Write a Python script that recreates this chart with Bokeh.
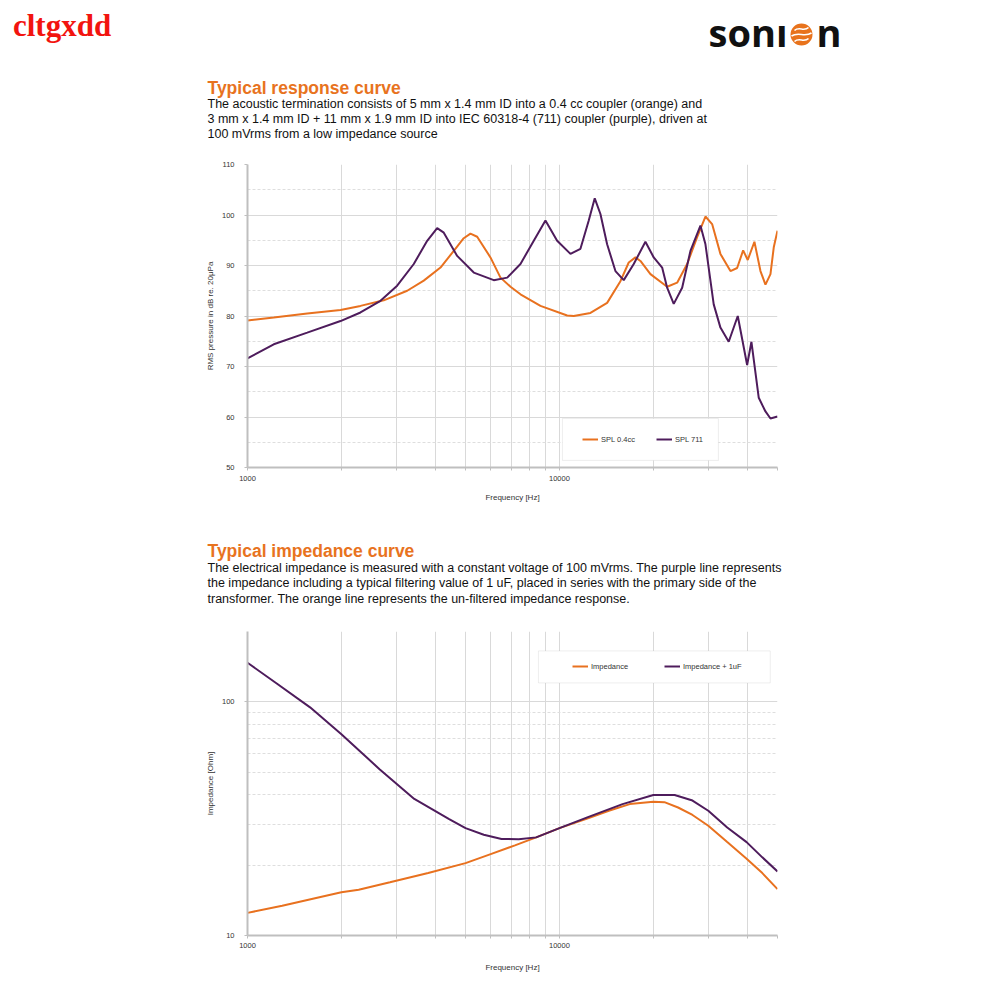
from bokeh.plotting import figure
from bokeh.models import (Range1d, FixedTicker, Label, Legend, LegendItem,
                          BoxAnnotation, BasicTickFormatter)
from bokeh.layouts import column
from bokeh.embed import file_html
from bokeh.resources import INLINE

# ---------------- data ----------------
SPL_04CC_FREQ = [1000, 1214, 1554, 1987, 2302, 2734, 3250, 3673, 4156, 4584,
                 4934, 5184, 5448, 6009, 6471, 6968, 7499, 8693, 10585, 11112,
                 12571, 14218, 15685, 16676, 17521, 18178, 19574, 22140, 23838,
                 25664, 27628, 29376, 30860, 32810, 35330, 37120, 38800, 40140,
                 42170, 44090, 45750, 47470, 48640, 50000]
SPL_04CC_DB = [79.1, 79.7, 80.5, 81.2, 82.0, 83.1, 85.0, 87.0, 89.6, 92.9,
               95.4, 96.3, 95.7, 91.6, 87.6, 85.8, 84.3, 82.0, 80.1, 80.0,
               80.6, 82.6, 86.9, 90.6, 91.6, 90.9, 88.3, 85.8, 86.6,
               90.3, 95.6, 99.7, 98.2, 92.3, 88.9, 89.5, 93.0, 91.1,
               94.7, 88.9, 86.2, 88.3, 93.6, 96.9]

SPL_711_FREQ = [1000, 1214, 1554, 1987, 2302, 2669, 3018, 3412, 3767, 4055,
                4258, 4700, 5313, 6158, 6802, 7499, 8273, 9018, 9831, 10846,
                11676, 12414, 12975, 13532, 14218, 15117, 16073, 17303, 18861,
                20054, 21340, 22140, 23245, 24736, 26299, 28311, 29376, 31226,
                32810, 34880, 37290, 39960, 41250, 43540, 45750, 47470, 50000]
SPL_711_DB = [71.6, 74.4, 76.7, 79.0, 80.7, 83.0, 86.0, 90.3, 94.9, 97.4,
              96.5, 91.9, 88.6, 87.1, 87.6, 90.3, 94.9, 98.9, 94.9, 92.3,
              93.3, 98.9, 103.3, 100.2, 94.2, 88.9, 87.1, 90.3, 94.7,
              91.6, 89.6, 85.6, 82.4, 85.6, 92.9, 97.9, 94.2, 82.3,
              77.7, 74.9, 80.0, 70.3, 74.9, 63.8, 61.1, 59.7, 60.1]

IMP_FREQ = [1000, 1292, 1714, 2000, 2272, 2862, 3795, 5000, 6020, 7200, 8420,
            10000, 12340, 14400, 16800, 20000, 21700, 24000, 26700, 30000,
            34500, 39800, 44700, 50000]
IMP_OHM = [12.5, 13.4, 14.6, 15.3, 15.7, 16.9, 18.5, 20.4, 22.3, 24.3, 26.3,
           28.8, 31.7, 34.2, 36.5, 37.4, 37.2, 35.3, 32.8, 29.5,
           25.1, 21.3, 18.5, 15.8]

IMP1UF_FREQ = [1000, 1228, 1587, 2000, 2650, 3425, 4430, 5000, 5720, 6520,
               7400, 8420, 10000, 12340, 15930, 20000, 23400, 26700, 30000,
               34500, 39800, 44700, 50000]
IMP1UF_OHM = [147, 121, 94.7, 72.7, 51.5, 38.4, 31.5, 28.8, 27.0, 25.9,
              25.8, 26.3, 28.8, 32.1, 36.5, 39.9, 39.9, 37.8, 34.2,
              29.0, 25.1, 21.6, 18.8]

X_TICKS = [1000, 10000]
X_TICK_LABELS = ["1000", "10000"]
X_MINOR = [2000, 3000, 4000, 5000, 6000, 7000, 8000, 9000,
           20000, 30000, 40000, 50000]
SPL_TICKS = [50, 60, 70, 80, 90, 100, 110]
SPL_TICK_LABELS = ["50", "60", "70", "80", "90", "100", "110"]
SPL_MINOR = [55, 65, 75, 85, 95, 105]
IMP_TICKS = [10, 100]
IMP_TICK_LABELS = ["10", "100"]
IMP_MINOR = [20, 30, 40, 50, 60, 70, 80, 90, 200]

ORANGE = "#E8711F"
PURPLE = "#4E1C5C"
TITLE_ORANGE = "#E8731E"
FONT = "Liberation Sans"
W = 1000


def text_fig(h):
    p = figure(width=W, height=h, x_range=Range1d(0, W), y_range=Range1d(h, 0),
               output_backend="svg", toolbar_location=None,
               x_axis_location=None, y_axis_location=None,
               min_border=0, min_border_left=0, min_border_right=0,
               min_border_top=0, min_border_bottom=0)
    p.frame_align = False
    p.grid.visible = False
    p.outline_line_color = None
    return p


def add_text(p, x, y, text, size, color="#111111", style="normal", font=FONT):
    p.add_layout(Label(x=x, y=y, text=text, text_font=font, text_font_size=size,
                       text_color=color, text_font_style=style,
                       text_baseline="alphabetic", text_align="left"))


# ---------------- header ----------------
h1 = text_fig(150)
add_text(h1, 12.5, 24.5, "cltgxdd", "31px", color="#F2140F", style="bold",
         font="Liberation Serif")
add_text(h1, 708, 31, "sonı", "38px", color="#111111", style="bold",
         font="Open Sans")
h1.circle(x=[801], y=[34], radius=11, fill_color="#E8731C", line_color=None)
for dy, half in ((-5.5, 7), (0, 10), (5.5, 7)):
    h1.bezier(x0=[801 - half], y0=[34 + dy + 1.5], x1=[801 + half], y1=[34 + dy - 1.5],
              cx0=[801 - half / 3], cy0=[34 + dy - 3], cx1=[801 + half / 3], cy1=[34 + dy + 3],
              line_color="white", line_width=1.6)
add_text(h1, 816, 31, "n", "38px", color="#111111", style="bold", font="Open Sans")

add_text(h1, 207, 87, "Typical response curve", "17.5px", color=TITLE_ORANGE, style="bold")
desc1 = ["The acoustic termination consists of 5 mm x 1.4 mm ID into a 0.4 cc coupler (orange) and",
         "3 mm x 1.4 mm ID + 11 mm x 1.9 mm ID into IEC 60318-4 (711) coupler (purple), driven at",
         "100 mVrms from a low impedance source"]
for i, line in enumerate(desc1):
    add_text(h1, 207, 103.5 + 14.8 * i, line, "12.5px")


def style_chart(p, yticks, ylabels, yminor, ylabel, lab_standoff, axlab_standoff):
    p.frame_align = False
    xt = FixedTicker(ticks=X_TICKS, minor_ticks=X_MINOR)
    yt = FixedTicker(ticks=yticks, minor_ticks=yminor)
    p.xaxis.ticker = xt
    p.yaxis.ticker = yt
    p.xgrid.ticker = xt
    p.ygrid.ticker = yt
    p.xaxis.formatter = BasicTickFormatter()
    p.yaxis.formatter = BasicTickFormatter()
    p.xaxis.major_label_overrides = dict(zip(X_TICKS, X_TICK_LABELS))
    p.yaxis.major_label_overrides = dict(zip(yticks, ylabels))
    p.xgrid.grid_line_color = "#D9D9D9"
    p.xgrid.minor_grid_line_color = "#D9D9D9"
    p.ygrid.grid_line_color = "#D9D9D9"
    p.ygrid.minor_grid_line_color = "#DEDEDE"
    p.ygrid.minor_grid_line_dash = "3 2"
    p.outline_line_color = None
    for ax in (p.xaxis[0], p.yaxis[0]):
        ax.axis_line_color = "#BFBFBF"
        ax.axis_line_width = 2
        ax.major_tick_line_color = "#BFBFBF"
        ax.major_tick_in = 0
        ax.major_tick_out = 3
        ax.minor_tick_line_color = "#BFBFBF"
        ax.minor_tick_in = 0
        ax.major_label_text_font = FONT
        ax.major_label_text_font_size = "7.5px"
        ax.major_label_text_color = "#333333"
        ax.axis_label_text_font = FONT
        ax.axis_label_text_font_size = "8px"
        ax.axis_label_text_font_style = "normal"
        ax.axis_label_text_color = "#333333"
    p.xaxis.minor_tick_out = 3
    p.yaxis.minor_tick_out = 0
    p.xaxis.major_label_standoff = lab_standoff
    p.xaxis.axis_label_standoff = axlab_standoff
    p.yaxis.major_label_standoff = 10
    p.yaxis.axis_label_standoff = 4
    p.xaxis.axis_label = "Frequency [Hz]"
    p.yaxis.axis_label = ylabel


def add_legend(p, r1, r2, l1, l2, box, loc, lw, spacing):
    p.add_layout(BoxAnnotation(left=box[0], right=box[1], bottom=box[2], top=box[3],
                               fill_color="white", fill_alpha=1.0,
                               line_color="#C8C8C8", line_width=1))
    leg = Legend(items=[LegendItem(label=l1, renderers=[r1]),
                        LegendItem(label=l2, renderers=[r2])],
                 orientation="horizontal", location=loc, padding=0, margin=0,
                 spacing=spacing, glyph_width=16, glyph_height=10, label_height=10,
                 label_width=lw, label_standoff=3, label_text_font=FONT,
                 label_text_font_size="7.5px", label_text_color="#333333",
                 background_fill_alpha=0, border_line_alpha=0)
    p.add_layout(leg)


# ---------------- chart 1 ----------------
p1 = figure(width=W, height=360, x_axis_type="log", x_range=Range1d(1000, 50000),
            y_range=Range1d(50, 110), output_backend="svg", toolbar_location=None,
            min_border_left=247, min_border_right=223, min_border_top=14,
            min_border_bottom=43)
style_chart(p1, SPL_TICKS, SPL_TICK_LABELS, SPL_MINOR,
            "RMS pressure in dB re. 20μPa", 5, 9)
ra = p1.line(SPL_04CC_FREQ, SPL_04CC_DB, line_color=ORANGE, line_width=2)
rb = p1.line(SPL_711_FREQ, SPL_711_DB, line_color=PURPLE, line_width=2)
add_legend(p1, ra, rb, "SPL 0.4cc", "SPL 711", (10223, 32330, 51.4, 59.7),
           (335, 23), 36, 19)

# ---------------- text block 2 ----------------
h2 = text_fig(110)
add_text(h2, 207, 40, "Typical impedance curve", "17.5px", color=TITLE_ORANGE, style="bold")
desc2 = ["The electrical impedance is measured with a constant voltage of 100 mVrms. The purple line represents",
         "the impedance including a typical filtering value of 1 uF, placed in series with the primary side of the",
         "transformer. The orange line represents the un-filtered impedance response."]
for i, line in enumerate(desc2):
    add_text(h2, 207, 57.5 + 15.3 * i, line, "12.5px")

# ---------------- chart 2 ----------------
p2 = figure(width=W, height=375, x_axis_type="log", y_axis_type="log",
            x_range=Range1d(1000, 50000), y_range=Range1d(10, 200),
            output_backend="svg", toolbar_location=None,
            min_border_left=247, min_border_right=223, min_border_top=11,
            min_border_bottom=60)
style_chart(p2, IMP_TICKS, IMP_TICK_LABELS, IMP_MINOR, "Impedance [Ohm]", 4, 12)
rc = p2.line(IMP_FREQ, IMP_OHM, line_color=ORANGE, line_width=2)
rd = p2.line(IMP1UF_FREQ, IMP1UF_OHM, line_color=PURPLE, line_width=2)
add_legend(p2, rc, rd, "Impedance", "Impedance + 1uF", (8566, 47400, 120.5, 165.2),
           (325, 264), 40, 33)

layout = column(h1, p1, h2, p2, spacing=0)
open("out.html", "w").write(file_html(layout, INLINE))
